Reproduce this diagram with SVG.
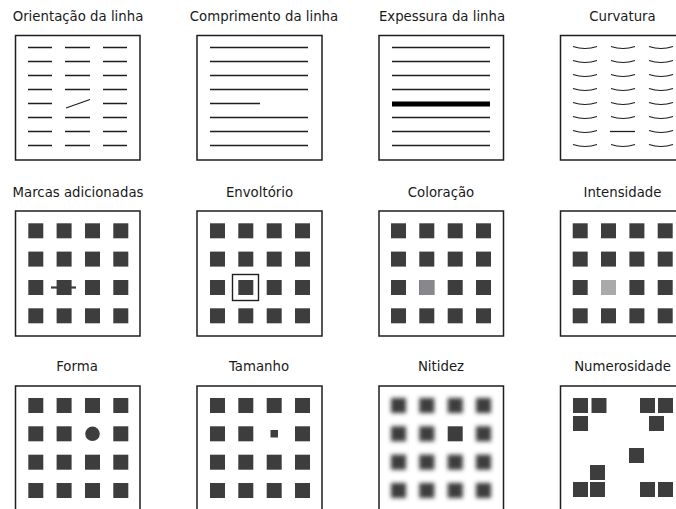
<svg xmlns="http://www.w3.org/2000/svg" width="676" height="509" viewBox="0 0 676 509">
<style>
.t{font-family:"DejaVu Sans","Open Sans",sans-serif;font-size:13.3px;fill:#1a1a1a;text-anchor:middle}
.box{fill:#fff;stroke:#1e1e1e;stroke-width:1.5}
.ln{stroke:#1e1e1e;stroke-width:1.3;fill:none}
.cv{stroke:#1e1e1e;stroke-width:1.2;fill:none}
.sq{fill:#3d3d3d}
</style>
<defs>
<filter id="blur" x="-50%" y="-50%" width="200%" height="200%"><feGaussianBlur stdDeviation="2.2"/></filter>
<g id="grid4">
<rect class="sq" x="0" y="0" width="15" height="15"/><rect class="sq" x="28.3" y="0" width="15" height="15"/><rect class="sq" x="56.7" y="0" width="15" height="15"/><rect class="sq" x="85" y="0" width="15" height="15"/>
<rect class="sq" x="0" y="28.3" width="15" height="15"/><rect class="sq" x="28.3" y="28.3" width="15" height="15"/><rect class="sq" x="56.7" y="28.3" width="15" height="15"/><rect class="sq" x="85" y="28.3" width="15" height="15"/>
<rect class="sq" x="0" y="56.7" width="15" height="15"/><rect class="sq" x="28.3" y="56.7" width="15" height="15"/><rect class="sq" x="56.7" y="56.7" width="15" height="15"/><rect class="sq" x="85" y="56.7" width="15" height="15"/>
<rect class="sq" x="0" y="85" width="15" height="15"/><rect class="sq" x="28.3" y="85" width="15" height="15"/><rect class="sq" x="56.7" y="85" width="15" height="15"/><rect class="sq" x="85" y="85" width="15" height="15"/>
</g>
<g id="grid4x">
<rect class="sq" x="0" y="0" width="15" height="15"/><rect class="sq" x="28.3" y="0" width="15" height="15"/><rect class="sq" x="56.7" y="0" width="15" height="15"/><rect class="sq" x="85" y="0" width="15" height="15"/>
<rect class="sq" x="0" y="28.3" width="15" height="15"/><rect class="sq" x="28.3" y="28.3" width="15" height="15"/><rect class="sq" x="85" y="28.3" width="15" height="15"/>
<rect class="sq" x="0" y="56.7" width="15" height="15"/><rect class="sq" x="28.3" y="56.7" width="15" height="15"/><rect class="sq" x="56.7" y="56.7" width="15" height="15"/><rect class="sq" x="85" y="56.7" width="15" height="15"/>
<rect class="sq" x="0" y="85" width="15" height="15"/><rect class="sq" x="28.3" y="85" width="15" height="15"/><rect class="sq" x="56.7" y="85" width="15" height="15"/><rect class="sq" x="85" y="85" width="15" height="15"/>
</g>
</defs>
<rect width="676" height="509" fill="#fff"/>

<g id="orientacao">
<text class="t" x="78" y="21">Orientação da linha</text>
<rect class="box" x="15.5" y="35.5" width="124.5" height="124.5"/>
<path class="ln" d="M28,47.5h24M65,47.5h25M103,47.5h24M28,61.5h24M65,61.5h25M103,61.5h24M28,75.5h24M65,75.5h25M103,75.5h24M28,89.5h24M65,89.5h25M103,89.5h24M28,103.5h24M103,103.5h24M28,117.5h24M65,117.5h25M103,117.5h24M28,131.5h24M65,131.5h25M103,131.5h24M28,145.5h24M65,145.5h25M103,145.5h24"/>
<path class="ln" d="M66,108L90,99.5"/>
</g>

<g id="comprimento">
<text class="t" x="264" y="21">Comprimento da linha</text>
<rect class="box" x="197" y="35.5" width="125" height="124.5"/>
<path class="ln" d="M210,47.5h98M210,61.5h98M210,75.5h98M210,89.5h98M210,103.5h50M210,117.5h98M210,131.5h98M210,145.5h98"/>
</g>

<g id="espessura">
<text class="t" x="442" y="21">Expessura da linha</text>
<rect class="box" x="379" y="35.5" width="124.5" height="124.5"/>
<path class="ln" d="M392,47.5h98M392,61.5h98M392,75.5h98M392,89.5h98M392,117.5h98M392,131.5h98M392,145.5h98"/>
<path d="M392,104h98" stroke="#000" stroke-width="5"/>
</g>

<g id="curvatura">
<text class="t" x="622.5" y="21">Curvatura</text>
<rect class="box" x="560.5" y="35.5" width="124.5" height="124.5"/>
<path class="cv" d="M573,46.5q12,4 24,0M611,46.5q12,4 24,0M649,46.5q12,4 24,0M573,60.5q12,4 24,0M611,60.5q12,4 24,0M649,60.5q12,4 24,0M573,74.5q12,4 24,0M611,74.5q12,4 24,0M649,74.5q12,4 24,0M573,88.5q12,4 24,0M611,88.5q12,4 24,0M649,88.5q12,4 24,0M573,102.5q12,4 24,0M611,102.5q12,4 24,0M649,102.5q12,4 24,0M573,116.5q12,4 24,0M611,116.5q12,4 24,0M649,116.5q12,4 24,0M573,130.5q12,4 24,0M649,130.5q12,4 24,0M573,144.5q12,4 24,0M611,144.5q12,4 24,0M649,144.5q12,4 24,0"/>
<path class="ln" d="M610,131.5h25"/>
</g>

<g id="marcas">
<text class="t" x="78" y="197">Marcas adicionadas</text>
<rect class="box" x="15.5" y="211" width="124.5" height="125"/>
<use href="#grid4" x="28.3" y="223.3"/>
<path d="M51,287.5h25" stroke="#3d3d3d" stroke-width="2.2"/>
</g>

<g id="envoltorio">
<text class="t" x="259.5" y="197">Envoltório</text>
<rect class="box" x="197" y="211" width="125" height="125"/>
<use href="#grid4" x="210" y="223.3"/>
<rect x="232.5" y="274.5" width="26" height="26" fill="none" stroke="#1e1e1e" stroke-width="1.4"/>
</g>

<g id="coloracao">
<text class="t" x="441" y="197">Coloração</text>
<rect class="box" x="379" y="211" width="124.5" height="125"/>
<use href="#grid4" x="391" y="223.3"/>
<rect x="419.3" y="280" width="15" height="15" fill="#87878c"/>
</g>

<g id="intensidade">
<text class="t" x="622.5" y="197">Intensidade</text>
<rect class="box" x="560.5" y="211" width="124.5" height="125"/>
<use href="#grid4" x="572.7" y="223.3"/>
<rect x="601" y="280" width="15" height="15" fill="#aaaaac"/>
</g>

<g id="forma">
<text class="t" x="77" y="371">Forma</text>
<rect class="box" x="15.5" y="386" width="124.5" height="130"/>
<use href="#grid4x" x="28.3" y="398"/>
<circle cx="92.5" cy="433.8" r="7.3" class="sq"/>
</g>

<g id="tamanho">
<text class="t" x="259" y="371">Tamanho</text>
<rect class="box" x="197" y="386" width="125" height="130"/>
<use href="#grid4x" x="210" y="398"/>
<rect x="270.5" y="430" width="7.5" height="7.5" class="sq"/>
</g>

<g id="nitidez">
<text class="t" x="441" y="371">Nitidez</text>
<rect class="box" x="379" y="386" width="124.5" height="130"/>
<use href="#grid4x" x="391" y="398" filter="url(#blur)"/>
<rect class="sq" x="447.7" y="426.3" width="15" height="15"/>
</g>

<g id="numerosidade">
<text class="t" x="622.5" y="371">Numerosidade</text>
<rect class="box" x="560.5" y="386" width="124.5" height="130"/>
<rect class="sq" x="573" y="398" width="15" height="15"/><rect class="sq" x="591.5" y="398" width="15" height="15"/>
<rect class="sq" x="640" y="398" width="15" height="15"/><rect class="sq" x="658" y="398" width="15" height="15"/>
<rect class="sq" x="573" y="416" width="15" height="15"/><rect class="sq" x="649" y="416" width="15" height="15"/>
<rect class="sq" x="629" y="448" width="15" height="15"/>
<rect class="sq" x="590" y="465" width="15" height="15"/>
<rect class="sq" x="573" y="482" width="15" height="15"/><rect class="sq" x="590" y="482" width="15" height="15"/>
<rect class="sq" x="640" y="482" width="15" height="15"/><rect class="sq" x="658" y="482" width="15" height="15"/>
</g>
<g id="connectors"/>
</svg>
